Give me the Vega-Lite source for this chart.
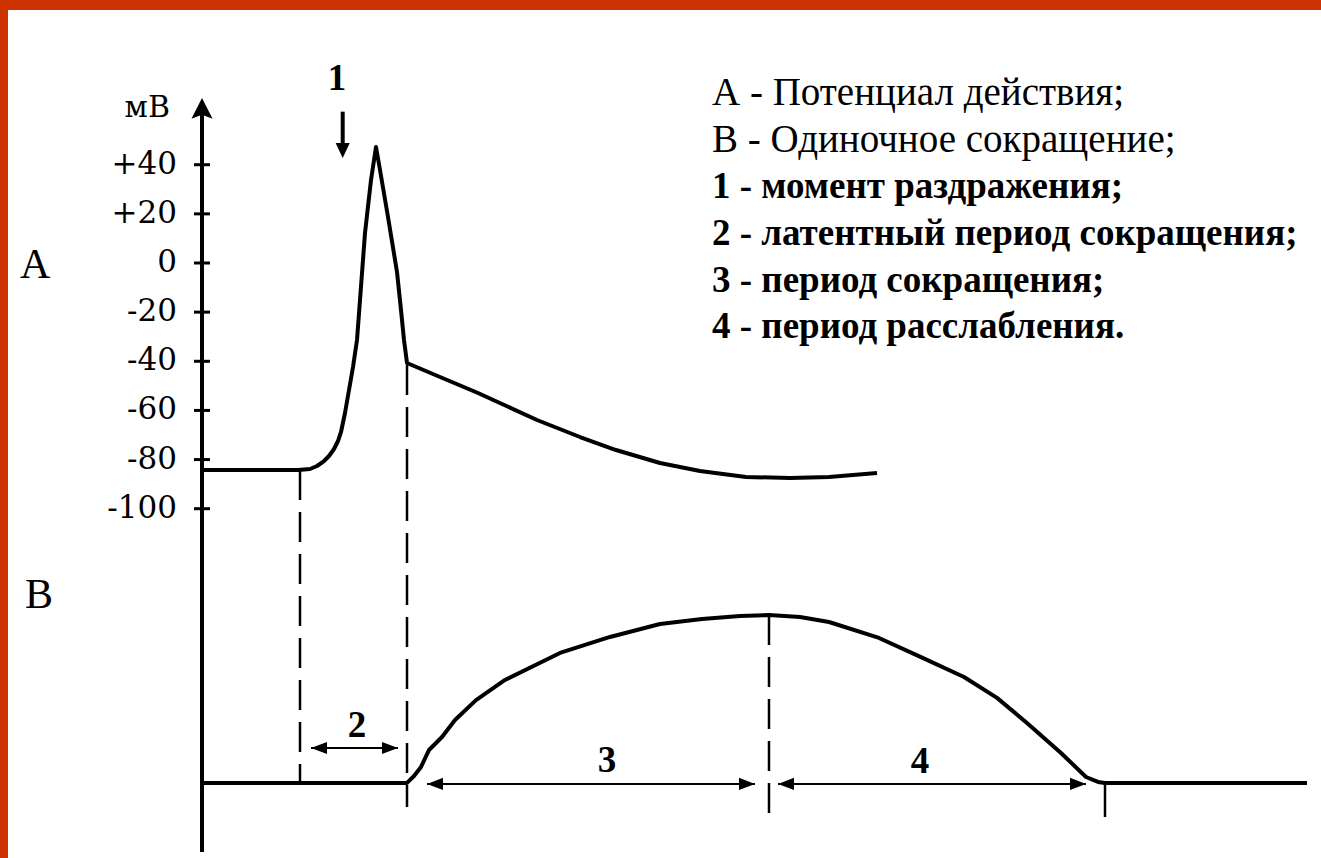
{
  "$schema": "https://vega.github.io/schema/vega-lite/v6.json",
  "width": 1321,
  "height": 858,
  "autosize": {"type": "fit", "contains": "padding"},
  "padding": {"left": 8, "top": 10, "right": 0, "bottom": 0},
  "background": "#cc3300",
  "config": {"view": {"fill": "#ffffff", "stroke": null}},
  "datasets": {
    "ap": [
      {"x": 0, "y": -84.25}, {"x": 9.6, "y": -84.25}, {"x": 10.8, "y": -83.84}, {"x": 11.5, "y": -82.62},
      {"x": 12.2, "y": -80.59}, {"x": 12.7, "y": -78.55}, {"x": 13.2, "y": -75.7}, {"x": 13.6, "y": -72.45},
      {"x": 13.9, "y": -68.78}, {"x": 14.3, "y": -61.05}, {"x": 14.7, "y": -51.69}, {"x": 15.1, "y": -42.33},
      {"x": 15.5, "y": -31.34}, {"x": 15.8, "y": -15.06}, {"x": 16.3, "y": 12.21}, {"x": 16.9, "y": 33.78},
      {"x": 17.4, "y": 47.21}, {"x": 17.8, "y": 37.85}, {"x": 18.6, "y": 18.72}, {"x": 19.5, "y": -3.66},
      {"x": 19.9, "y": -19.13}, {"x": 20.2, "y": -31.34}, {"x": 20.5, "y": -40.7}, {"x": 23.8, "y": -46.4},
      {"x": 27.6, "y": -52.91}, {"x": 33.5, "y": -63.9}, {"x": 37.8, "y": -70.82}, {"x": 41.4, "y": -76.11},
      {"x": 45.8, "y": -81.4}, {"x": 49.8, "y": -84.66}, {"x": 54.4, "y": -87.1}, {"x": 58.8, "y": -87.5},
      {"x": 62.7, "y": -87.1}, {"x": 67.5, "y": -85.47}
    ],
    "twitch": [
      {"x": 0, "y": -211.6}, {"x": 20.5, "y": -211.6}, {"x": 21.2, "y": -208.8}, {"x": 21.9, "y": -205.1},
      {"x": 22.7, "y": -198.2}, {"x": 24.0, "y": -192.9}, {"x": 25.3, "y": -186.0}, {"x": 27.4, "y": -177.9},
      {"x": 30.3, "y": -169.7}, {"x": 35.8, "y": -158.7}, {"x": 40.8, "y": -152.2}, {"x": 45.8, "y": -146.9},
      {"x": 50.0, "y": -144.9}, {"x": 53.8, "y": -143.7}, {"x": 56.7, "y": -143.3}, {"x": 59.8, "y": -144.1},
      {"x": 62.7, "y": -146.1}, {"x": 67.7, "y": -152.6}, {"x": 71.9, "y": -160.4}, {"x": 76.2, "y": -168.5},
      {"x": 79.5, "y": -177.0}, {"x": 82.5, "y": -187.2}, {"x": 85.9, "y": -199.4}, {"x": 88.4, "y": -209.2},
      {"x": 89.6, "y": -211.2}, {"x": 90.3, "y": -211.6}, {"x": 110.5, "y": -211.6}
    ],
    "ticks": [
      {"x": 0, "y": 40, "label": "+40"}, {"x": 0, "y": 20, "label": "+20"}, {"x": 0, "y": 0, "label": "0"},
      {"x": 0, "y": -20, "label": "-20"}, {"x": 0, "y": -40, "label": "-40"}, {"x": 0, "y": -60, "label": "-60"},
      {"x": 0, "y": -80, "label": "-80"}, {"x": 0, "y": -100, "label": "-100"}
    ],
    "dashed": [
      {"x": 9.8, "y": -84.25, "y2": -211.6},
      {"x": 20.5, "y": -41.5, "y2": -221.4},
      {"x": 56.7, "y": -143.3, "y2": -225.9}
    ],
    "solidv": [
      {"x": 0, "y": -239.7, "y2": 62.5, "part": "axis"},
      {"x": 14.07, "y": 61.6, "y2": 46.0, "part": "stimulus"}
    ],
    "endmark": [
      {"x": 90.3, "y": -211.6, "y2": -225.5}
    ],
    "spans": [
      {"x": 10.9, "x2": 19.6, "y": -197.4, "period": "2"},
      {"x": 22.5, "x2": 55.3, "y": -212.0, "period": "3"},
      {"x": 57.6, "x2": 88.4, "y": -212.0, "period": "4"}
    ],
    "heads": [
      {"x": 0, "y": 67.2, "dir": "up"},
      {"x": 14.07, "y": 42.7, "dir": "down"},
      {"x": 10.9, "y": -197.4, "dir": "left"},
      {"x": 19.6, "y": -197.4, "dir": "right"},
      {"x": 22.5, "y": -212.0, "dir": "left"},
      {"x": 55.3, "y": -212.0, "dir": "right"},
      {"x": 57.6, "y": -212.0, "dir": "left"},
      {"x": 88.4, "y": -212.0, "dir": "right"}
    ],
    "numbers": [
      {"x": 13.5, "y": 70.4, "text": "1"},
      {"x": 15.5, "y": -192.9, "text": "2"},
      {"x": 40.5, "y": -207.2, "text": "3"},
      {"x": 71.8, "y": -207.6, "text": "4"}
    ],
    "panels": [
      {"x": -18.2, "y": -6.1, "text": "А"},
      {"x": -17.7, "y": -140.4, "text": "В"}
    ],
    "unit": [
      {"x": -3.2, "y": 59.4, "text": "мВ"}
    ],
    "legend": [
      {"x": 51.0, "y": 64.3, "text": "А - Потенциал действия;", "weight": "normal"},
      {"x": 51.0, "y": 45.2, "text": "В - Одиночное сокращение;", "weight": "normal"},
      {"x": 51.0, "y": 26.5, "text": "1 - момент раздражения;", "weight": "bold"},
      {"x": 51.0, "y": 7.3, "text": "2 - латентный период сокращения;", "weight": "bold"},
      {"x": 51.0, "y": -11.8, "text": "3 - период сокращения;", "weight": "bold"},
      {"x": 51.0, "y": -30.5, "text": "4 - период расслабления.", "weight": "bold"}
    ]
  },
  "encoding": {
    "x": {"field": "x", "type": "quantitative", "scale": {"domain": [-19.4, 111.9], "nice": false, "zero": false}, "axis": null},
    "y": {"field": "y", "type": "quantitative", "scale": {"domain": [-242.16, 102.97], "nice": false, "zero": false}, "axis": null}
  },
  "layer": [
    {
      "data": {"name": "dashed"},
      "mark": {"type": "rule", "color": "#000000", "strokeWidth": 2.5, "strokeDash": [30, 12]},
      "encoding": {"y2": {"field": "y2"}}
    },
    {
      "data": {"name": "endmark"},
      "mark": {"type": "rule", "color": "#000000", "strokeWidth": 2.5},
      "encoding": {"y2": {"field": "y2"}}
    },
    {
      "data": {"name": "solidv"},
      "mark": {"type": "rule", "color": "#000000", "strokeWidth": 4},
      "encoding": {"y2": {"field": "y2"}}
    },
    {
      "data": {"name": "ticks"},
      "mark": {"type": "tick", "orient": "horizontal", "color": "#000000", "size": 16, "thickness": 3, "opacity": 1}
    },
    {
      "data": {"name": "ticks"},
      "mark": {"type": "text", "align": "right", "baseline": "middle", "dx": -25, "font": "DejaVu Serif", "fontSize": 31, "color": "#000000"},
      "encoding": {"text": {"field": "label"}}
    },
    {
      "data": {"name": "spans"},
      "mark": {"type": "rule", "color": "#000000", "strokeWidth": 2},
      "encoding": {"x2": {"field": "x2"}}
    },
    {
      "data": {"name": "heads"},
      "mark": {"type": "point", "filled": true, "color": "#000000", "opacity": 1, "strokeWidth": 0, "size": 1024},
      "encoding": {
        "shape": {
          "field": "dir",
          "type": "nominal",
          "scale": {
            "domain": ["up", "down", "left", "right"],
            "range": [
              "M0,0L-0.66,1.31L0,1.05L0.66,1.31Z",
              "M0,0L-0.44,-0.94L0.44,-0.94Z",
              "M0,0L1,-0.38L1,0.38Z",
              "M0,0L-1,-0.38L-1,0.38Z"
            ]
          },
          "legend": null
        }
      }
    },
    {
      "data": {"name": "ap"},
      "mark": {"type": "line", "color": "#000000", "strokeWidth": 4, "strokeJoin": "round"}
    },
    {
      "data": {"name": "twitch"},
      "mark": {"type": "line", "color": "#000000", "strokeWidth": 4, "strokeJoin": "round"}
    },
    {
      "data": {"name": "numbers"},
      "mark": {"type": "text", "align": "center", "baseline": "alphabetic", "font": "Liberation Serif", "fontSize": 37, "fontWeight": "bold", "color": "#000000"},
      "encoding": {"text": {"field": "text"}}
    },
    {
      "data": {"name": "panels"},
      "mark": {"type": "text", "align": "left", "baseline": "alphabetic", "font": "Liberation Serif", "fontSize": 42, "color": "#000000"},
      "encoding": {"text": {"field": "text"}}
    },
    {
      "data": {"name": "unit"},
      "mark": {"type": "text", "align": "right", "baseline": "alphabetic", "font": "DejaVu Serif", "fontSize": 30, "color": "#000000"},
      "encoding": {"text": {"field": "text"}}
    },
    {
      "data": {"name": "legend"},
      "transform": [{"filter": "datum.weight === 'normal'"}],
      "mark": {"type": "text", "align": "left", "baseline": "alphabetic", "font": "Liberation Serif", "fontSize": 39, "color": "#000000"},
      "encoding": {"text": {"field": "text"}}
    },
    {
      "data": {"name": "legend"},
      "transform": [{"filter": "datum.weight === 'bold'"}],
      "mark": {"type": "text", "align": "left", "baseline": "alphabetic", "font": "Liberation Serif", "fontSize": 37, "fontWeight": "bold", "color": "#000000"},
      "encoding": {"text": {"field": "text"}}
    }
  ]
}
